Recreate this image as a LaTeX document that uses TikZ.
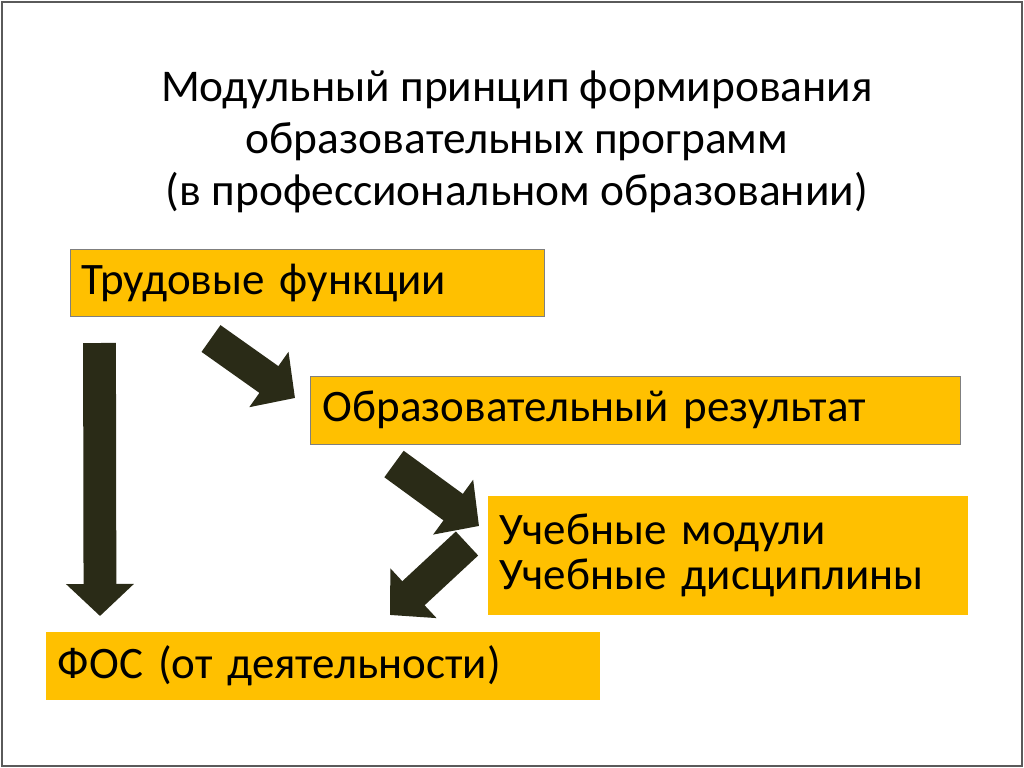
\documentclass[tikz,border=0pt]{standalone}
\usepackage{fontspec}
\setmainfont{Carlito}
\usepackage{tikz}
\usetikzlibrary{arrows.meta,positioning}
\definecolor{boxfill}{HTML}{FFC000}
\definecolor{boxline}{HTML}{7F7F7F}
\definecolor{arrowfill}{HTML}{2A2B17}
\definecolor{frameline}{HTML}{5A5A5A}
\tikzset{
  box/.style      = {fill=boxfill,inner xsep=0.3cm,inner ysep=0pt,align=left,
                     font=\fontsize{32}{32}\selectfont,text=black},
  boxb/.style     = {box,draw=boxline,line width=0.6pt},
  bigarrow/.style = {draw=arrowfill,line width=0.82cm,
                     -{Triangle[width=1.65cm,length=0.8cm]}},
  title/.style    = {align=center,font=\fontsize{32.3}{37}\selectfont},
}

\begin{document}
\begin{tikzpicture}[x=0.025cm,y=-0.025cm]
  \useasboundingbox (0,0) rectangle (1024,768);
  \draw[frameline,line width=1.2pt] (2,2) rectangle (1022,766);

  \node[title] (head) at (517,142)
       {Модульный принцип формирования\\образовательных программ\\(в профессиональном образовании)};

  \node[boxb,minimum width=11.85cm,minimum height=1.675cm,text width=11.25cm]
       (trud) at (307,282.5) {Трудовые функции};
  \node[boxb,minimum width=16.225cm,minimum height=1.7cm,text width=15.625cm]
       (rez) at (635.5,410) {Образовательный результат};
  \node[box,minimum width=12cm,minimum height=2.975cm,text width=11.4cm]
       (mod) at (728,555.5) {Учебные модули\\Учебные дисциплины};
  \node[box,minimum width=13.85cm,minimum height=1.7cm,text width=13.25cm]
       (fos) at (323,666) {ФОС (от деятельности)};

  % arrow ends
  \coordinate (a0s) at (99.5,343);  \coordinate (a0e) at (100,616);
  \coordinate (a1s) at (211,338.5); \coordinate (a1e) at (295,398);
  \coordinate (a2s) at (394,464);   \coordinate (a2e) at (479,526);
  \coordinate (a3s) at (467,543.5); \coordinate (a3e) at (390,615);

  \foreach \s/\e in {a0s/a0e,a1s/a1e,a2s/a2e,a3s/a3e}
     \draw[bigarrow] (\s) -- (\e);
\end{tikzpicture}
\end{document}
